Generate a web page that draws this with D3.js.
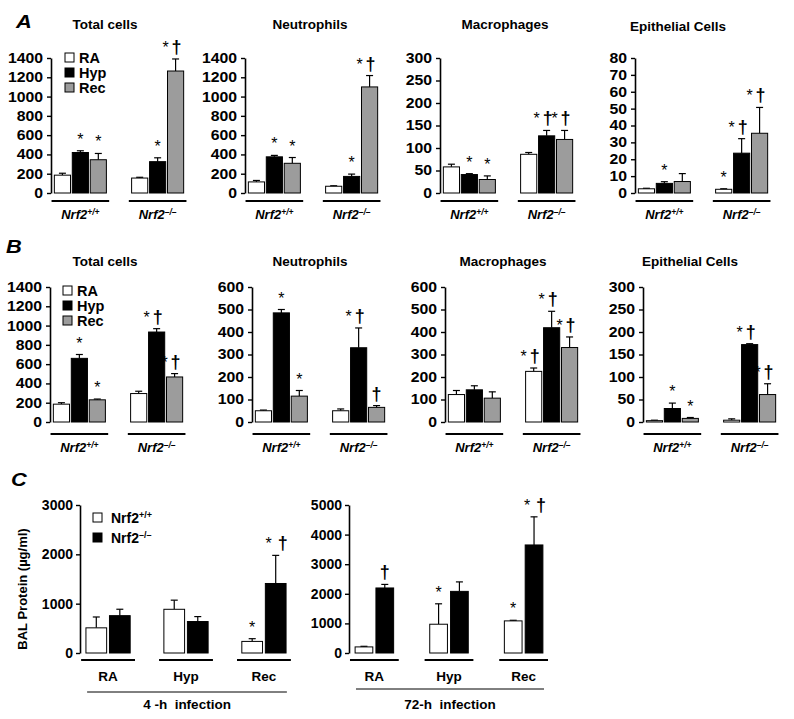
<!DOCTYPE html>
<html>
<head>
<meta charset="utf-8">
<script src="https://cdn.jsdelivr.net/npm/d3@7"></script>
<style>
  body { margin: 0; background: #fff; }
  text { font-family: "Liberation Sans", Arial, sans-serif; font-weight: bold; fill: #000; }
</style>
</head>
<body>
<svg id="main" width="794" height="719"></svg>
<script>
var conditions = ["RA", "Hyp", "Rec"];
var genotypes = ["+/+", "–/–"];
var genoLegend = ["Nrf2", "Nrf2"];

// tick labels
var ticks1400 = [0, 200, 400, 600, 800, 1000, 1200, 1400];
var ticks300 = [0, 50, 100, 150, 200, 250, 300];
var ticks80 = [0, 10, 20, 30, 40, 50, 60, 70, 80];
var ticks600 = [0, 100, 200, 300, 400, 500, 600];
var ticks3000 = [0, 1000, 2000, 3000];
var ticks5000 = [0, 1000, 2000, 3000, 4000, 5000];

// panel A, order: +/+ RA, Hyp, Rec, then -/- RA, Hyp, Rec
var totalA = [185, 420, 345, 155, 325, 1265];
var totalAErr = [20, 18, 65, 8, 40, 125];
var totalAMarks = ["", "*", "*", "", "*", "*†"];

var neutroA = [115, 375, 308, 70, 172, 1100];
var neutroAErr = [15, 15, 60, 5, 24, 118];
var neutroAMarks = ["", "*", "*", "", "*", "*†"];

var macroA = [58, 41, 30, 86, 127, 119];
var macroAErr = [6, 2, 8, 4, 12, 20];
var macroAMarks = ["", "*", "*", "", "*†", "*†"];

var epiA = [2.5, 5.7, 6.8, 2.2, 23.6, 35.4];
var epiAErr = [0.3, 1, 4.7, 0.3, 8.6, 15.3];
var epiAMarks = ["", "*", "", "*", "*†", "*†"];

// panel B
var totalB = [185, 660, 230, 295, 933, 467];
var totalBErr = [15, 40, 8, 24, 35, 35];
var totalBMarks = ["", "*", "*", "", "*†", "*†"];

var neutroB = [50, 485, 115, 50, 330, 65];
var neutroBErr = [3, 15, 25, 8, 88, 8];
var neutroBMarks = ["", "*", "*", "", "*†", "†"];

var macroB = [122, 143, 106, 225, 419, 331];
var macroBErr = [18, 18, 28, 15, 73, 47];
var macroBMarks = ["", "", "", "*†", "*†", "*†"];

var epiB = [3, 30, 8, 4, 172, 61];
var epiBErr = [1, 12, 2, 3, 2, 24];
var epiBMarks = ["", "*", "*", "", "*†", "*†"];

// panel C, order: RA +/+, RA -/-, Hyp +/+, Hyp -/-, Rec +/+, Rec -/-
var protein4h = [510, 757, 886, 638, 235, 1409];
var protein4hErr = [220, 130, 185, 100, 55, 570];
var protein4hMarks = ["", "", "", "", "*", "*†"];

var protein72h = [206, 2197, 972, 2082, 1085, 3650];
var protein72hErr = [20, 120, 690, 320, 20, 950];
var protein72hMarks = ["", "†", "*", "", "*", "*†"];


var svg = d3.select("#main");

class BarPanel {

  constructor(opts) {
    this.opts = opts;
    this.g = svg.append("g").attr("transform", "translate(" + opts.x + ",0)");

    this.y = d3.scaleLinear()
      .domain([0, d3.max(opts.ticks)])
      .range([opts.bottom, opts.top]);
    this.x = d3.scaleBand()
      .domain(opts.groups)
      .range([0, opts.width])
      .paddingInner(opts.padInner)
      .paddingOuter(opts.padOuter);
    this.xSub = d3.scaleBand()
      .domain(opts.series)
      .range([0, this.x.bandwidth()])
      .padding(opts.padBar);

    var n = opts.series.length;
    this.rows = opts.values.map(function(v, i) {
      return {
        group: opts.groups[Math.floor(i / n)],
        series: opts.series[i % n],
        value: v,
        err: opts.errors[i],
        mark: opts.marks[i]
      };
    });
  }

  draw() {
    this.drawAxis();
    this.drawBars();
    this.drawMarks();
    this.drawGroups();
    if (this.opts.title) {
      svg.append("text")
        .attr("x", this.opts.titleX)
        .attr("y", this.opts.titleY)
        .attr("text-anchor", "middle")
        .style("font-size", "13.5px")
        .text(this.opts.title);
    }
  }

  drawAxis() {
    var axis = d3.axisLeft(this.y)
      .tickValues(this.opts.ticks)
      .tickFormat(d3.format("d"))
      .tickSize(4)
      .tickSizeOuter(0)
      .tickPadding(3);
    var ax = this.g.append("g").call(axis);
    ax.select(".domain").attr("stroke-width", 1.6);
    ax.selectAll(".tick line").attr("stroke-width", 1.4);
    ax.selectAll(".tick text")
      .attr("font-family", null)
      .attr("font-size", null)
      .attr("transform", "scale(" + this.opts.tickStretch + ",1)")
      .style("font-size", this.opts.tickSize + "px");
  }

  drawBars() {
    var self = this;
    var fills = this.opts.fills;

    var bar = this.g.selectAll(".bar")
      .data(this.rows)
      .enter().append("g")
      .attr("transform", function(d) { return "translate(" + (self.x(d.group) + self.xSub(d.series)) + ",0)"; });

    var w = this.xSub.bandwidth();

    // error bars, upper half only
    bar.append("line")
      .attr("x1", w / 2).attr("x2", w / 2)
      .attr("y1", function(d) { return self.y(d.value); })
      .attr("y2", function(d) { return self.y(d.value + d.err); })
      .attr("stroke", "#000").attr("stroke-width", 1.2);
    bar.append("line")
      .attr("x1", w / 2 - 3.5).attr("x2", w / 2 + 3.5)
      .attr("y1", function(d) { return self.y(d.value + d.err); })
      .attr("y2", function(d) { return self.y(d.value + d.err); })
      .attr("stroke", "#000").attr("stroke-width", 1.2);

    bar.append("rect")
      .attr("x", 0)
      .attr("width", w)
      .attr("y", function(d) { return self.y(d.value); })
      .attr("height", function(d) { return self.y(0) - self.y(d.value); })
      .attr("fill", function(d) { return fills[d.series]; })
      .attr("stroke", "#000")
      .attr("stroke-width", 1);
  }

  /*
    star and dagger above the error bar
  */
  drawMarks() {
    var self = this;
    var w = this.xSub.bandwidth();
    this.rows.forEach(function(d) {
      if (!d.mark) return;
      var cx = self.x(d.group) + self.xSub(d.series) + w / 2;
      var base = self.y(d.value + d.err) - 6;
      var hasStar = d.mark.indexOf("*") >= 0;
      var hasDag = d.mark.indexOf("†") >= 0;
      var shift = self.opts.markShift;
      if (hasStar) {
        self.g.append("text")
          .attr("x", hasDag ? cx + shift[0] : cx)
          .attr("y", base)
          .attr("text-anchor", "middle")
          .style("font-size", "16px")
          .style("font-weight", "normal")
          .text("*");
      }
      if (hasDag) {
        self.g.append("text")
          .attr("x", hasStar ? cx + shift[1] : cx)
          .attr("y", base)
          .attr("text-anchor", "middle")
          .style("font-size", "18px")
          .text("†");
      }
    });
  }

  drawGroups() {
    var self = this;
    var o = this.opts;
    o.groups.forEach(function(gname, i) {
      var x0 = self.x(gname) - o.lineExtra;
      var x1 = self.x(gname) + self.x.bandwidth() + o.lineExtra;
      self.g.append("line")
        .attr("x1", x0).attr("x2", x1)
        .attr("y1", o.bottom + o.lineOffset).attr("y2", o.bottom + o.lineOffset)
        .attr("stroke", "#000").attr("stroke-width", 1.8);
      var t = self.g.append("text")
        .attr("x", (x0 + x1) / 2)
        .attr("y", o.bottom + o.labelOffset)
        .attr("text-anchor", "middle");
      if (o.genoLabels) {
        t.style("font-style", "italic").style("font-size", "13px");
        t.append("tspan").text("Nrf2");
        t.append("tspan").attr("dy", -4).style("font-size", "8.5px").text(gname);
      } else {
        t.style("font-size", "13.5px").text(gname);
      }
    });
  }
}

function legendBoxes(x, y, names, fills, step) {
  names.forEach(function(name, i) {
    svg.append("rect")
      .attr("x", x).attr("y", y + i * step)
      .attr("width", 9).attr("height", 9)
      .attr("fill", fills[name])
      .attr("stroke", "#000").attr("stroke-width", 1);
    svg.append("text")
      .attr("x", x + 14).attr("y", y + i * step + 10)
      .style("font-size", "14.5px")
      .text(name);
  });
}

function panelLetter(txt, x, y) {
  svg.append("text")
    .attr("transform", "translate(" + x + "," + y + ") scale(1.15,1)")
    .style("font-size", "19px")
    .style("font-style", "italic")
    .text(txt);
}

var condFills = { "RA": "#fff", "Hyp": "#000", "Rec": "#9c9c9c" };
var genoFills = { "+/+": "#fff", "–/–": "#000" };

/* ========= panels A and B ========= */
function cellPanel(x, top, title, titleX, titleY, values, errors, marks, ticks, lineOffset, labelOffset) {
  new BarPanel({
    x: x, width: 136, top: top, bottom: top + 135,
    groups: genotypes, series: conditions, fills: condFills,
    padInner: 0.28, padOuter: 0.02, padBar: 0.1,
    values: values, errors: errors, marks: marks, ticks: ticks,
    tickSize: 14, tickStretch: 1.13,
    title: title, titleX: titleX, titleY: titleY,
    lineOffset: lineOffset, labelOffset: labelOffset, lineExtra: 1,
    genoLabels: true, markShift: [-10, 1]
  }).draw();
}

panelLetter("A", 16, 28);
cellPanel(51, 58, "Total cells", 105, 29, totalA, totalAErr, totalAMarks, ticks1400, 8, 26);
cellPanel(245, 58, "Neutrophils", 310, 29, neutroA, neutroAErr, neutroAMarks, ticks1400, 8, 26);
cellPanel(440, 58, "Macrophages", 505, 29, macroA, macroAErr, macroAMarks, ticks300, 8, 26);
cellPanel(635, 58, "Epithelial Cells", 678, 31, epiA, epiAErr, epiAMarks, ticks80, 8, 26);
legendBoxes(65, 53, conditions, condFills, 15);

panelLetter("B", 6, 253);
cellPanel(50, 287, "Total cells", 105, 266, totalB, totalBErr, totalBMarks, ticks1400, 12, 30);
cellPanel(252, 287, "Neutrophils", 310, 266, neutroB, neutroBErr, neutroBMarks, ticks600, 12, 30);
cellPanel(445, 287, "Macrophages", 503, 266, macroB, macroBErr, macroBMarks, ticks600, 12, 30);
cellPanel(643, 287, "Epithelial Cells", 690, 266, epiB, epiBErr, epiBMarks, ticks300, 12, 30);
legendBoxes(63, 286, conditions, condFills, 15);

/* ========= panel C ========= */
panelLetter("C", 11, 486);

function proteinPanel(x, width, padInner, padBar, values, errors, marks, ticks, caption, capY) {
  var p = new BarPanel({
    x: x, width: width, top: 505, bottom: 653,
    groups: conditions, series: genotypes, fills: genoFills,
    padInner: padInner, padOuter: 0.04, padBar: padBar,
    values: values, errors: errors, marks: marks, ticks: ticks,
    tickSize: 14, tickStretch: 1,
    lineOffset: 7, labelOffset: 28, lineExtra: 2,
    genoLabels: false, markShift: [-7, 7]
  });
  p.draw();
  var x0 = p.x(conditions[0]) + 4;
  var x1 = p.x(conditions[2]) + p.x.bandwidth() - 2;
  p.g.append("line")
    .attr("x1", x0).attr("x2", x1)
    .attr("y1", capY).attr("y2", capY)
    .attr("stroke", "#000").attr("stroke-width", 1);
  p.g.append("text")
    .attr("x", (x0 + x1) / 2)
    .attr("y", 709)
    .attr("text-anchor", "middle")
    .style("font-size", "13.5px")
    .style("white-space", "pre")
    .text(caption);
}

proteinPanel(80, 212, 0.36, 0.12, protein4h, protein4hErr, protein4hMarks, ticks3000, "4 -h  infection", 692);
proteinPanel(349, 200, 0.4, 0.15, protein72h, protein72hErr, protein72hMarks, ticks5000, "72-h  infection", 689);

svg.append("text")
  .attr("transform", "translate(27,589) rotate(-90)")
  .attr("text-anchor", "middle")
  .style("font-size", "13px")
  .text("BAL Protein (µg/ml)");

// legend for C
genotypes.forEach(function(gname, i) {
  svg.append("rect")
    .attr("x", 93).attr("y", 513 + i * 20)
    .attr("width", 9).attr("height", 9)
    .attr("fill", genoFills[gname])
    .attr("stroke", "#000").attr("stroke-width", 1);
  var t = svg.append("text")
    .attr("x", 111).attr("y", 522.5 + i * 20)
    .style("font-size", "14px");
  t.append("tspan").text(genoLegend[i]);
  t.append("tspan").attr("dy", -5).style("font-size", "9px").text(gname);
});
</script>
</body>
</html>
